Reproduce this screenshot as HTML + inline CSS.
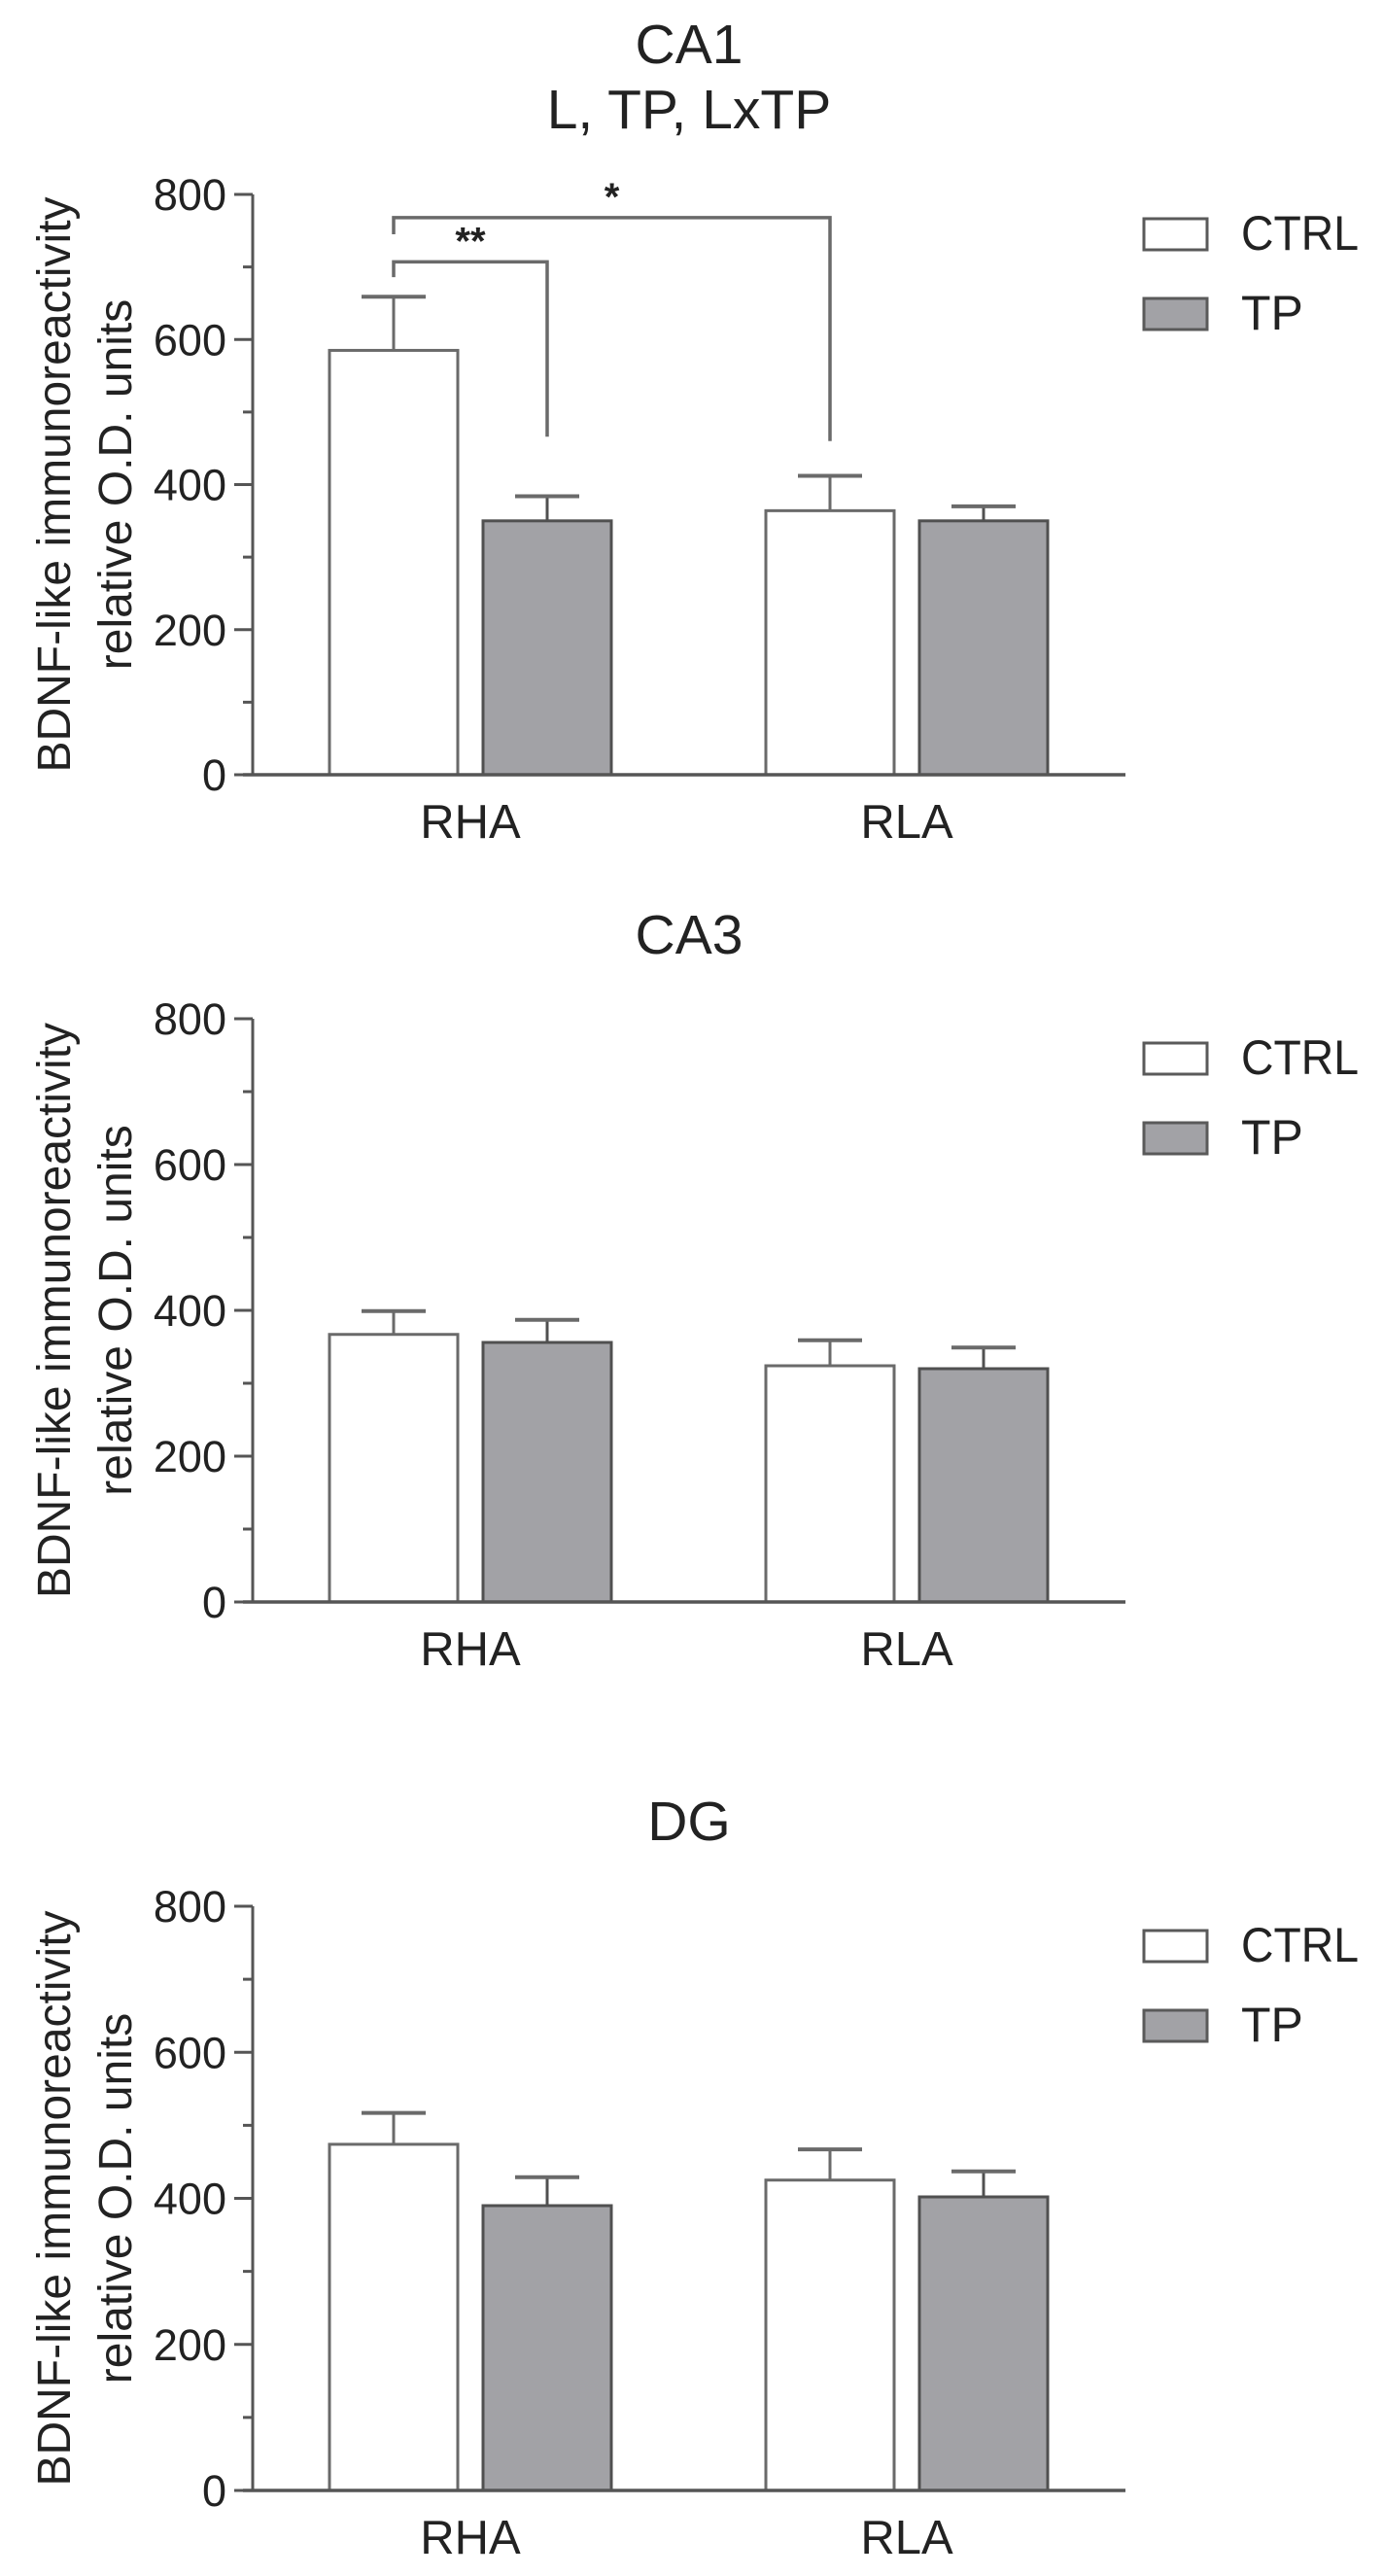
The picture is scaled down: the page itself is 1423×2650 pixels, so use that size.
<!DOCTYPE html>
<html><head><meta charset="utf-8"><style>
html,body{margin:0;padding:0;background:#fff;}
svg{display:block;}
text{font-family:"Liberation Sans",Arial,sans-serif;fill:#222;}
</style></head><body>
<svg id="fig" width="1423" height="2650" viewBox="0 0 1423 2650" xmlns="http://www.w3.org/2000/svg"></svg>
<script>
const categories = ["RHA", "RLA"];
const seriesNames = ["CTRL", "TP"];
const yTicks = [0, 200, 400, 600, 800];
const yMinorTicks = [100, 300, 500, 700];
const ca1Ctrl = [585, 364];
const ca1CtrlErr = [74, 48];
const ca1Tp = [350, 350];
const ca1TpErr = [34, 20];
const ca3Ctrl = [367, 324];
const ca3CtrlErr = [32, 35];
const ca3Tp = [356, 320];
const ca3TpErr = [31, 29];
const dgCtrl = [474, 425];
const dgCtrlErr = [43, 42];
const dgTp = [390, 402];
const dgTpErr = [39, 35];

const NS = "http://www.w3.org/2000/svg";
const svg = document.getElementById("fig");
function mk(tag, attrs, parent) {
  const e = document.createElementNS(NS, tag);
  for (const k in attrs) e.setAttribute(k, attrs[k]);
  (parent || svg).appendChild(e);
  return e;
}
const AX = 260, AXEND = 1158, BW = 132, GAP = 26;
const catCenters = [484, 933];
const FILLS = ["#ffffff", "#a2a2a6"];
const STROKES = ["#6a6a6a", "#505050"];

function panel(id, titleLines, titleYs, y800, y0, ctrl, ctrlErr, tp, tpErr, brackets) {
  const g = mk("g", {});
  
  
  const yScale = v => y0 - (v / 800) * (y0 - y800);
  titleLines.forEach((t, i) => {
    const tt = mk("text", {x: 709, y: titleYs[i], "font-size": 57, "text-anchor": "middle"}, g);
    tt.textContent = t;
    
    
  });
  // y axis title
  const yl = mk("text", {transform: `translate(${72},${(y0 + y800) / 2}) rotate(-90)`, "font-size": 48, "text-anchor": "middle"}, g);
  yl.textContent = "BDNF-like immunoreactivity";
  
  
  const yl2 = mk("text", {transform: `translate(${135},${(y0 + y800) / 2}) rotate(-90)`, "font-size": 48, "text-anchor": "middle"}, g);
  yl2.textContent = "relative O.D. units";
  
  
  // axes
  const ya = mk("line", {x1: AX, y1: yScale(800), x2: AX, y2: y0, stroke: "#555", "stroke-width": 3}, g);
  
  
  yTicks.forEach(v => {
    const y = yScale(v);
    mk("line", {x1: AX - 19, y1: y, x2: AX, y2: y, stroke: "#555", "stroke-width": 3}, g);
    const t = mk("text", {x: AX - 27, y: y + 16, "font-size": 45, "text-anchor": "end"}, g);
    t.textContent = v;
    
    
  });
  yMinorTicks.forEach(v => {
    const y = yScale(v);
    mk("line", {x1: AX - 10, y1: y, x2: AX, y2: y, stroke: "#555", "stroke-width": 3}, g);
  });
  // bars
  const series = [[ctrl, ctrlErr], [tp, tpErr]];
  categories.forEach((c, ci) => {
    series.forEach((s, si) => {
      const x = catCenters[ci] - GAP / 2 - BW + si * (BW + GAP);
      const top = yScale(s[0][ci]);
      const cx = x + BW / 2;
      const et = yScale(s[0][ci] + s[1][ci]);
      const el = mk("line", {x1: cx, y1: top, x2: cx, y2: et, stroke: STROKES[si], "stroke-width": 3}, g);
      
      
      mk("line", {x1: cx - 33, y1: et, x2: cx + 33, y2: et, stroke: "#6a6a6a", "stroke-width": 4}, g);
      const r = mk("rect", {x: x, y: top, width: BW, height: y0 - top, fill: FILLS[si], stroke: STROKES[si], "stroke-width": 3}, g);
      
      
    });
    const cl = mk("text", {x: catCenters[ci], y: y0 + 65, "font-size": 49, "text-anchor": "middle"}, g);
    cl.textContent = c;
    
    
  });
  const xa = mk("line", {x1: AX - 10, y1: y0, x2: AXEND, y2: y0, stroke: "#555", "stroke-width": 3.5}, g);
  
  
  // legend
  seriesNames.forEach((n, si) => {
    const by = y800 + 25 + si * 82;
    const lb = mk("rect", {x: 1177, y: by, width: 65, height: 32, fill: FILLS[si], stroke: "#5a5a5a", "stroke-width": 3}, g);
    
    
    const lt = mk("text", {x: 1277, y: by + 32, "font-size": 50}, g);
    lt.textContent = n;
    if (n === "CTRL") { lt.setAttribute("textLength", 121); lt.setAttribute("lengthAdjust", "spacingAndGlyphs"); }
    
    
  });
  // significance brackets
  (brackets || []).forEach(b => {
    const x1 = catCenters[b.c1] - GAP / 2 - BW / 2 + b.s1 * (BW + GAP);
    const x2 = catCenters[b.c2] - GAP / 2 - BW / 2 + b.s2 * (BW + GAP);
    const yt = yScale(b.top);
    const p = mk("path", {d: `M${x1},${yScale(b.leftEnd)} L${x1},${yt} L${x2},${yt} L${x2},${yScale(b.rightEnd)}`, fill: "none", stroke: "#6a6a6a", "stroke-width": 3.5}, g);
    
    
    const st = mk("text", {x: (x1 + x2) / 2, y: yt - 8, "font-size": 40, "font-weight": "bold", "text-anchor": "middle"}, g);
    st.textContent = b.label;
    
    
  });
}

panel("ca1", ["CA1", "L, TP, LxTP"], [65, 132], 200, 797, ca1Ctrl, ca1CtrlErr, ca1Tp, ca1TpErr, [
  {c1: 0, s1: 0, c2: 1, s2: 0, top: 768, leftEnd: 745, rightEnd: 460, label: "*"},
  {c1: 0, s1: 0, c2: 0, s2: 1, top: 707, leftEnd: 686, rightEnd: 466, label: "**"}
]);
panel("ca3", ["CA3"], [981], 1048, 1648, ca3Ctrl, ca3CtrlErr, ca3Tp, ca3TpErr, []);
panel("dg", ["DG"], [1893], 1961, 2562, dgCtrl, dgCtrlErr, dgTp, dgTpErr, []);
</script>
</body></html>
